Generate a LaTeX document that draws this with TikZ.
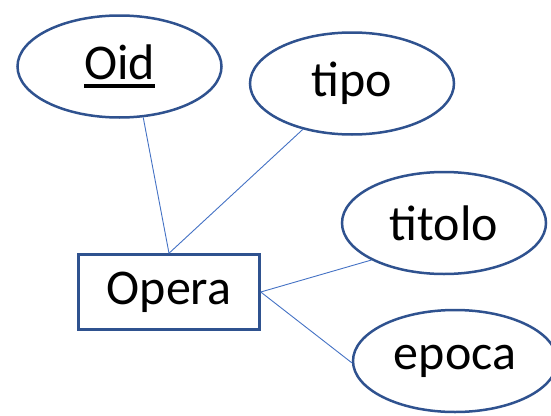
\documentclass[tikz,border=0pt]{standalone}
\usepackage{fontspec}
\setmainfont{Carlito}
\usepackage{tikz}
\usetikzlibrary{shapes.geometric}
\definecolor{erblue}{RGB}{47,82,143}
\definecolor{lnblue}{RGB}{68,114,196}
\newcommand{\keyattr}[1]{\setbox0\hbox{#1}\rlap{\rule[-9pt]{\wd0}{4pt}}\box0}

\begin{document}
\begin{tikzpicture}[x=1pt,y=-1pt,
  font=\fontsize{50}{60}\selectfont,
  attr/.style={draw=erblue,ellipse,line width=2.5pt,inner sep=0pt,
               minimum width=204pt,minimum height=102pt},
  ent/.style={draw=erblue,line width=2.5pt,inner sep=0pt,
              minimum width=181pt,minimum height=75pt},
  ln/.style={draw=lnblue,line width=0.9pt}]
\useasboundingbox (0,0) rectangle (551,415);

\node[attr] (oid) at (119.5,66.5) {\keyattr{Oid}};
\node[attr] (tipo) at (352,83.5) {tipo};
\node[attr] (titolo) at (444,223) {titolo};
\node[attr] (epoca) at (455,361) {epoca};
\node[ent] (opera) at (169,292) {Opera};

\draw[ln] (oid.-65) -- (opera.north);
\draw[ln] (tipo.-137) -- (opera.north);
\draw[ln] (opera.east) -- (titolo.207);
\draw[ln] (opera.east) -- (epoca.181);
\end{tikzpicture}
\end{document}
